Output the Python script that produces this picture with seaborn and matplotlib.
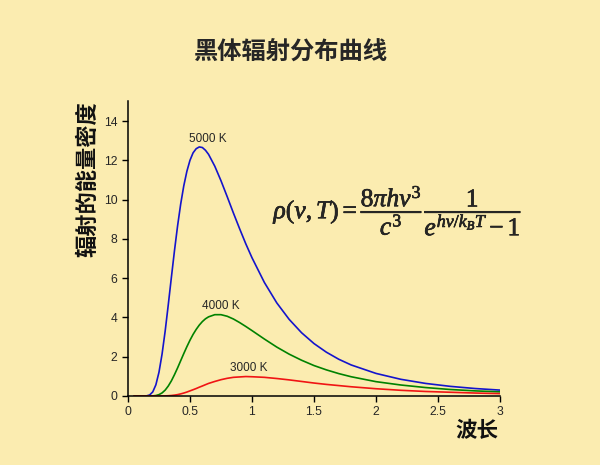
import matplotlib
matplotlib.use("Agg")
import matplotlib.pyplot as plt
import matplotlib.patheffects as pe
import seaborn as sns
import pandas as pd

# wavelength (x) and energy density
wavelength = [0.05, 0.1, 0.15, 0.175, 0.2, 0.225, 0.25, 0.275, 0.3, 0.325, 0.35,
              0.375, 0.4, 0.425, 0.45, 0.475, 0.5, 0.525, 0.55, 0.575, 0.6, 0.625,
              0.65, 0.7, 0.75, 0.8, 0.85, 0.9, 0.95, 1.0, 1.1, 1.2, 1.3, 1.4,
              1.5, 1.6, 1.7, 1.8, 2.0, 2.2, 2.4, 2.6, 2.8, 3.0]
u_5000 = [0, 0, 0.007, 0.052, 0.21, 0.571, 1.21, 2.14, 3.31, 4.65, 6.04,
          7.40, 8.66, 9.77, 10.70, 11.44, 12.0, 12.38, 12.59, 12.68, 12.65, 12.51,
          12.30, 11.70, 10.96, 10.15, 9.32, 8.52, 7.75, 7.04, 5.78, 4.74, 3.90, 3.22,
          2.67, 2.23, 1.87, 1.58, 1.15, 0.85, 0.64, 0.49, 0.38, 0.30]
u_4000 = [0, 0, 0, 0, 0.006, 0.023, 0.07, 0.157, 0.30, 0.508, 0.77,
          1.086, 1.43, 1.796, 2.16, 2.511, 2.84, 3.135, 3.39, 3.61, 3.79, 3.931,
          4.03, 4.14, 4.14, 4.06, 3.92, 3.74, 3.54, 3.33, 2.90, 2.49, 2.13, 1.82,
          1.55, 1.33, 1.14, 0.98, 0.73, 0.56, 0.43, 0.33, 0.26, 0.21]
u_3000 = [0, 0, 0, 0, 0, 0, 0, 0.002, 0.006, 0.013, 0.025,
          0.044, 0.07, 0.107, 0.15, 0.201, 0.26, 0.319, 0.38, 0.448, 0.51, 0.576,
          0.64, 0.74, 0.83, 0.90, 0.95, 0.97, 0.99, 0.98, 0.95, 0.89, 0.82, 0.74,
          0.66, 0.59, 0.53, 0.47, 0.37, 0.29, 0.23, 0.19, 0.15, 0.12]

temps = ["5000 K", "4000 K", "3000 K"]
series = [u_5000, u_4000, u_3000]
label_pos = [(0.645, 13.1), (0.75, 4.6), (0.975, 1.4)]
x_ticks = [0, 0.5, 1, 1.5, 2, 2.5, 3]
x_tick_labels = ["0", "0.5", "1", "1.5", "2", "2.5", "3"]
y_ticks = [0, 2, 4, 6, 8, 10, 12, 14]

colors = {"5000 K": "#1414CC", "4000 K": "#008200", "3000 K": "#F01414"}
bg = "#FBECB0"

df = pd.concat(
    [pd.DataFrame({"wavelength": wavelength, "u": vals, "T": t})
     for t, vals in zip(temps, series)],
    ignore_index=True,
)

sns.set_style("ticks")
plt.rcParams["font.family"] = ["Liberation Sans", "Noto Sans CJK SC", "DejaVu Sans"]
plt.rcParams["mathtext.fontset"] = "custom"
plt.rcParams["mathtext.rm"] = "Liberation Serif"
plt.rcParams["mathtext.it"] = "Liberation Serif:italic"
plt.rcParams["mathtext.bf"] = "Liberation Serif:bold"

fig = plt.figure(figsize=(6, 4.65), dpi=100, facecolor=bg)
ax = fig.add_axes([0.2133, 0.1484, 0.62, 0.6336])
ax.set_facecolor(bg)

sns.lineplot(data=df, x="wavelength", y="u", hue="T", palette=colors,
             estimator=None, sort=False, legend=False, linewidth=1.2, ax=ax)

ax.set_xlim(0, 3)
ax.set_ylim(0, 15)
ax.set_xticks(x_ticks)
ax.set_xticklabels(x_tick_labels)
ax.set_yticks(y_ticks)
ax.tick_params(labelsize=8.7, length=4.5, width=1, color="black", pad=3)
ax.set_xlabel("")
ax.set_ylabel("")
sns.despine(ax=ax)
for s in ("left", "bottom"):
    ax.spines[s].set_linewidth(1.1)
    ax.spines[s].set_color("black")

for t, (tx, ty) in zip(temps, label_pos):
    ax.text(tx, ty, t, fontsize=8.5, ha="center", va="center")

fig.text(0.485, 0.886, "黑体辐射分布曲线", fontsize=17.5, ha="center", va="center",
         family=["Noto Sans CJK SC"], fontweight="bold")
fig.text(0.147, 0.615, "辐射的能量密度", fontsize=16, ha="center", va="center",
         rotation=90, family=["Noto Sans CJK SC"], fontweight="bold", color="#111111")
fig.text(0.794, 0.075, "波长", fontsize=15.5, ha="center", va="center",
         family=["Noto Sans CJK SC"], fontweight="bold", color="#111111")

fig.text(0.664, 0.548,
         r"$\rho(\nu,T)=\dfrac{8\pi h\nu^3}{c^3}\dfrac{1}{e^{h\nu/k_BT}-1}$",
         fontsize=18.5, ha="center", va="center",
         path_effects=[pe.withStroke(linewidth=0.4, foreground="black")])

fig.savefig("out.png", dpi=100, facecolor=bg)
